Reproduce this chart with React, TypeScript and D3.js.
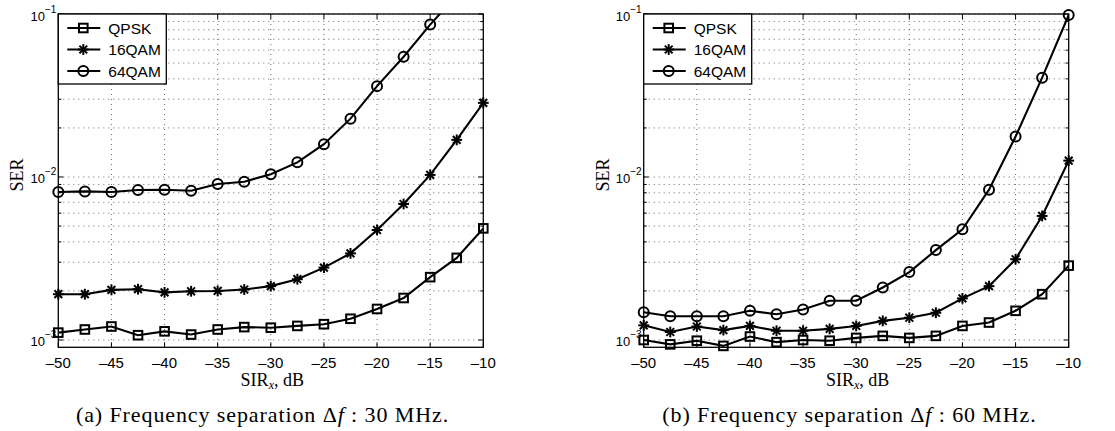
import React from "react";
import * as d3 from "d3";

const sirValues = [-50, -47.5, -45, -42.5, -40, -37.5, -35, -32.5, -30, -27.5, -25, -22.5, -20, -17.5, -15, -12.5, -10];
const seriesNames = ["QPSK", "16QAM", "64QAM"];
const xTicks = [-50, -45, -40, -35, -30, -25, -20, -15, -10];
const yDecades = [-3, -2, -1];

// Panel (a): 30 MHz
const qpskA = [1.11e-3, 1.16e-3, 1.21e-3, 1.07e-3, 1.13e-3, 1.08e-3, 1.16e-3, 1.2e-3, 1.19e-3, 1.22e-3, 1.25e-3, 1.35e-3, 1.55e-3, 1.81e-3, 2.43e-3, 3.19e-3, 4.84e-3];
const qam16A = [1.91e-3, 1.91e-3, 2.03e-3, 2.05e-3, 1.96e-3, 1.99e-3, 2.0e-3, 2.04e-3, 2.14e-3, 2.36e-3, 2.78e-3, 3.4e-3, 4.73e-3, 6.83e-3, 1.03e-2, 1.69e-2, 2.85e-2];
const qam64A = [8.09e-3, 8.16e-3, 8.09e-3, 8.32e-3, 8.36e-3, 8.24e-3, 9.06e-3, 9.36e-3, 1.04e-2, 1.23e-2, 1.59e-2, 2.28e-2, 3.61e-2, 5.47e-2, 8.61e-2, 0.13, 0.19];

// Panel (b): 60 MHz
const qpskB = [1.0e-3, 0.94e-3, 0.99e-3, 0.92e-3, 1.05e-3, 0.97e-3, 1.0e-3, 0.99e-3, 1.03e-3, 1.06e-3, 1.03e-3, 1.06e-3, 1.22e-3, 1.28e-3, 1.51e-3, 1.91e-3, 2.86e-3];
const qam16B = [1.23e-3, 1.12e-3, 1.21e-3, 1.15e-3, 1.22e-3, 1.14e-3, 1.14e-3, 1.17e-3, 1.22e-3, 1.31e-3, 1.37e-3, 1.47e-3, 1.8e-3, 2.14e-3, 3.13e-3, 5.77e-3, 1.26e-2];
const qam64B = [1.48e-3, 1.4e-3, 1.4e-3, 1.4e-3, 1.51e-3, 1.44e-3, 1.54e-3, 1.74e-3, 1.74e-3, 2.1e-3, 2.61e-3, 3.56e-3, 4.78e-3, 8.36e-3, 1.77e-2, 4.07e-2, 0.0987];

const captionPrefixes = ["(a) Frequency separation ", "(b) Frequency separation "];
const captionSuffixes = [" : 30 MHz.", " : 60 MHz."];

type Marker = "square" | "star" | "circle";
const markers: Marker[] = ["square", "star", "circle"];

const SANS = "'Liberation Sans', Arial, Helvetica, sans-serif";
const SERIF = "'Liberation Serif', 'Times New Roman', serif";

function MarkerShape({ type, x, y }: { type: Marker; x: number; y: number }) {
  if (type === "square") {
    return <rect x={x - 4.3} y={y - 4.3} width={8.6} height={8.6} fill="none" stroke="#000" strokeWidth={2} />;
  }
  if (type === "circle") {
    return <circle cx={x} cy={y} r={5} fill="none" stroke="#000" strokeWidth={2} />;
  }
  const r = 5.4;
  const d = r * 0.72;
  return (
    <g stroke="#000" strokeWidth={2}>
      <line x1={x - r} y1={y} x2={x + r} y2={y} />
      <line x1={x} y1={y - r} x2={x} y2={y + r} />
      <line x1={x - d} y1={y - d} x2={x + d} y2={y + d} />
      <line x1={x - d} y1={y + d} x2={x + d} y2={y - d} />
    </g>
  );
}

function Panel({ left, data, id, idx, capX }: { left: number; data: number[][]; id: string; idx: number; capX: number }) {
  const W = 425;
  const top = 14;
  const bottom = 347.3;
  const yMin = Math.pow(10, -3.0448);
  const x = d3.scaleLinear().domain([-50, -10]).range([left, left + W]);
  const y = d3.scaleLog().domain([yMin, 0.1]).range([bottom, top]);
  const line = d3
    .line<number>()
    .x((_, i) => x(sirValues[i]))
    .y((v) => y(v));

  const minorVals: number[] = [];
  yDecades.forEach((dd) => {
    for (let k = 2; k <= 9; k++) {
      const v = k * Math.pow(10, dd);
      if (v <= 0.1 && v >= yMin) minorVals.push(v);
    }
  });
  const majorVals = [1e-3, 1e-2, 1e-1];
  const grid = "#444";

  return (
    <g>
      <defs>
        <clipPath id={id}>
          <rect x={left} y={top} width={W} height={bottom - top} />
        </clipPath>
      </defs>
      <rect x={left} y={top} width={W} height={bottom - top} fill="#fff" />
      {/* grid */}
      <g stroke={grid} strokeWidth={0.8} strokeDasharray="1,4">
        {xTicks.slice(1, -1).map((t) => (
          <line key={"gx" + t} x1={x(t)} x2={x(t)} y1={top} y2={bottom} />
        ))}
        {[...minorVals, ...majorVals].map((v) => (
          <line key={"gy" + v} x1={left} x2={left + W} y1={y(v)} y2={y(v)} />
        ))}
      </g>
      {/* ticks */}
      <g stroke="#000" strokeWidth={1}>
        {xTicks.map((t) => (
          <g key={"tx" + t}>
            <line x1={x(t)} x2={x(t)} y1={bottom} y2={bottom - 5} />
            <line x1={x(t)} x2={x(t)} y1={top} y2={top + 5} />
          </g>
        ))}
        {majorVals.map((v) => (
          <g key={"ty" + v}>
            <line x1={left} x2={left + 5} y1={y(v)} y2={y(v)} />
            <line x1={left + W} x2={left + W - 5} y1={y(v)} y2={y(v)} />
          </g>
        ))}
        {minorVals.map((v) => (
          <g key={"tm" + v}>
            <line x1={left} x2={left + 3} y1={y(v)} y2={y(v)} />
            <line x1={left + W} x2={left + W - 3} y1={y(v)} y2={y(v)} />
          </g>
        ))}
      </g>
      {/* data */}
      <g clipPath={`url(#${id})`}>
        {data.map((s, si) => (
          <path key={"l" + si} d={line(s) || ""} fill="none" stroke="#000" strokeWidth={2.1} />
        ))}
      </g>
      <g>
        {data.map((s, si) =>
          s.map((v, i) =>
            v <= 0.1001 ? <MarkerShape key={`m${si}-${i}`} type={markers[si]} x={x(sirValues[i])} y={y(v)} /> : null
          )
        )}
      </g>
      {/* axes box */}
      <rect x={left} y={top} width={W} height={bottom - top} fill="none" stroke="#000" strokeWidth={1.3} />
      {/* x tick labels */}
      <g fontFamily={SANS} fontSize={15} textAnchor="middle">
        {xTicks.map((t) => (
          <text key={"xl" + t} x={x(t)} y={367.5}>
            {"\u2013" + Math.abs(t)}
          </text>
        ))}
      </g>
      {/* y tick labels */}
      <g fontFamily={SANS} fill="#000">
        {yDecades.map((dd) => (
          <text key={"yl" + dd} x={left - 2} y={y(Math.pow(10, dd)) + 6.5} fontSize={13} textAnchor="end">
            10
            <tspan dy={-8} fontSize={10}>{"\u2212" + Math.abs(dd)}</tspan>
          </text>
        ))}
      </g>
      {/* axis labels */}
      <text x={left + 214} y={386} textAnchor="middle" fontFamily={SERIF} fontSize={18}>
        SIR<tspan fontSize={12} dy={3} fontStyle="italic">x</tspan>
        <tspan dy={-3}>, dB</tspan>
      </text>
      <text transform={`translate(${left - 35},${175}) rotate(-90)`} textAnchor="middle" fontFamily={SERIF} fontSize={18}>
        SER
      </text>
      {/* legend */}
      <g>
        <rect x={left} y={top} width={108} height={70} fill="#fff" stroke="#000" strokeWidth={1.3} />
        {seriesNames.map((n, i) => {
          const ly = top + 14 + i * 21.5;
          return (
            <g key={"lg" + n}>
              <line x1={left + 9} x2={left + 42} y1={ly} y2={ly} stroke="#000" strokeWidth={2.1} />
              <MarkerShape type={markers[i]} x={left + 25} y={ly} />
              <text x={left + 50} y={ly + 5.5} fontFamily={SANS} fontSize={15.5}>
                {n}
              </text>
            </g>
          );
        })}
      </g>
      {/* caption */}
      <text x={capX} y={422} textAnchor="middle" fontFamily={SERIF} fontSize={22} letterSpacing={0.9}>
        {captionPrefixes[idx]}
        <tspan>{"\u0394"}</tspan>
        <tspan fontStyle="italic">f</tspan>
        {captionSuffixes[idx]}
      </text>
    </g>
  );
}

export default function App() {
  return (
    <svg width={1115} height={431} style={{ display: "block", position: "absolute", left: 0, top: 0 }}>
      <rect width={1115} height={431} fill="#fff" />
      <Panel left={58.3} data={[qpskA, qam16A, qam64A]} id="clipA" idx={0} capX={262.5} />
      <Panel left={643.7} data={[qpskB, qam16B, qam64B]} id="clipB" idx={1} capX={849.5} />
    </svg>
  );
}
